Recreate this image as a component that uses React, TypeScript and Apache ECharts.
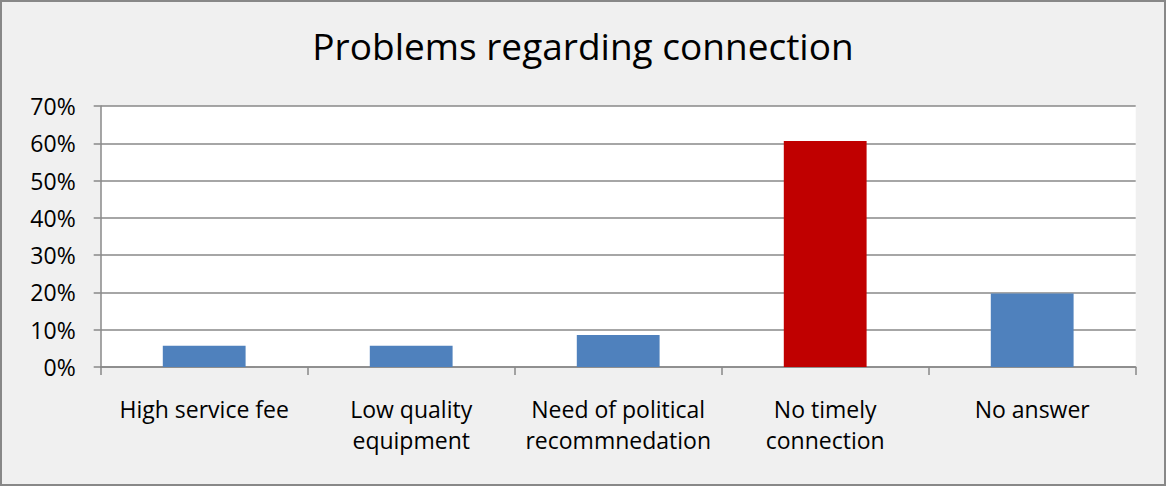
import React, { useEffect, useRef } from "react";
import * as echarts from "echarts";

const categories = [
  "High service fee",
  "Low quality\nequipment",
  "Need of political\nrecommnedation",
  "No timely\nconnection",
  "No answer",
];
const shares = [5.7, 5.7, 8.6, 60.6, 19.7];
const barColors = ["#4f81bd", "#4f81bd", "#4f81bd", "#c00000", "#4f81bd"];
const yTicks = { min: 0, max: 70, interval: 10 };

const FONT = "'Open Sans', 'Noto Sans', sans-serif";

export default function App() {
  const ref = useRef<HTMLDivElement>(null);

  useEffect(() => {
    if (!ref.current) return;
    const chart = echarts.init(ref.current, undefined, { renderer: "svg" });
    chart.setOption({
      animation: false,
      backgroundColor: "#f0f0f0",
      title: {
        text: "Problems regarding connection",
        left: "center",
        top: 22,
        textStyle: { fontFamily: FONT, fontSize: 37, fontWeight: "normal", color: "#000" },
      },
      graphic: [
        {
          type: "rect",
          shape: { x: 1, y: 1, width: 1164, height: 484 },
          style: { fill: "none", stroke: "#888", lineWidth: 2 },
          silent: true,
          z: 100,
        },
      ],
      grid: { left: 100.7, right: 30.3, top: 106, bottom: 119, containLabel: false,
        show: true, backgroundColor: "#fff", borderWidth: 0 },
      xAxis: {
        type: "category",
        data: categories,
        axisLine: { show: true, lineStyle: { color: "#888", width: 1.5 } },
        axisTick: { show: true, length: 8, lineStyle: { color: "#888", width: 1.5 } },
        axisLabel: {
          fontFamily: FONT,
          fontSize: 23,
          color: "#000",
          margin: 26,
          lineHeight: 31,
          interval: 0,
        },
      },
      yAxis: {
        type: "value",
        min: yTicks.min,
        max: yTicks.max,
        interval: yTicks.interval,
        axisLine: { show: true, lineStyle: { color: "#888", width: 1.5 } },
        axisTick: { show: true, length: 7, lineStyle: { color: "#888", width: 1.5 } },
        axisLabel: {
          fontFamily: FONT,
          fontSize: 23,
          color: "#000",
          margin: 25,
          formatter: (v: number) => `${v}%`,
        },
        splitLine: { show: true, lineStyle: { color: "#888", width: 1.5 } },
      },
      series: [
        {
          type: "bar",
          barWidth: "40%",
          data: shares.map((v, i) => ({ value: v, itemStyle: { color: barColors[i] } })),
        },
      ],
    });
    return () => chart.dispose();
  }, []);

  return (
    <div
      ref={ref}
      style={{ position: "fixed", left: 0, top: 0, width: 1166, height: 486 }}
    />
  );
}
